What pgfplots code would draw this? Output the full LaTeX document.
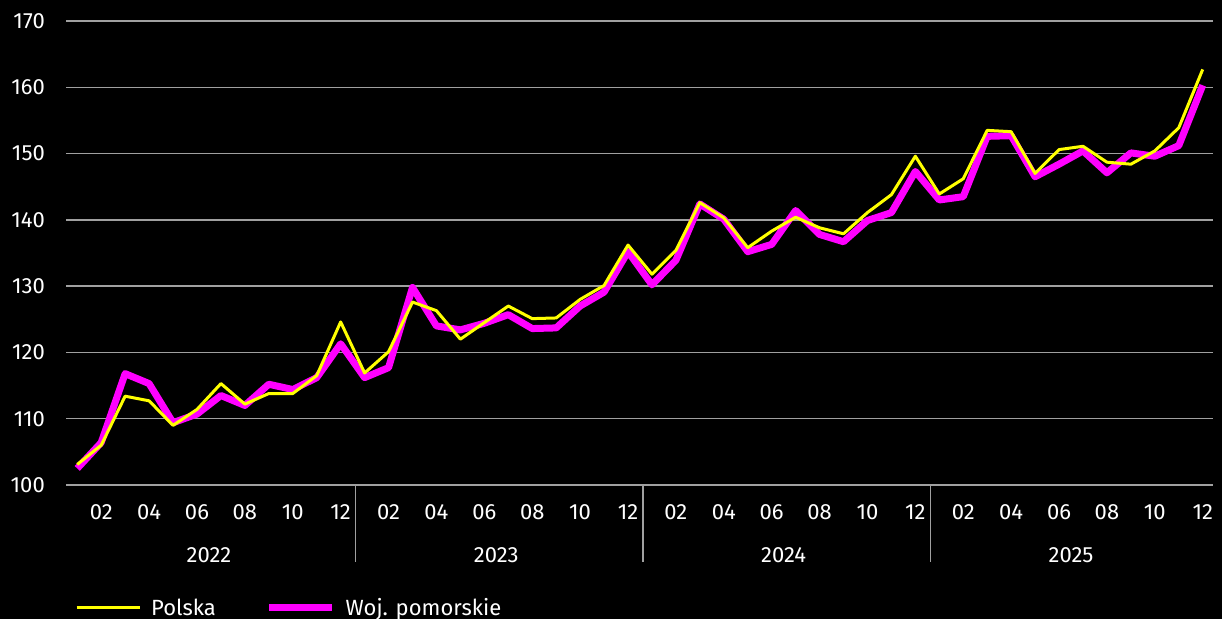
\documentclass[border=0pt]{standalone}
\usepackage{pgfplots}
\pgfplotsset{compat=1.18}
\usepackage{fontspec}
\setmainfont{Fira Sans}
\definecolor{gridgrey}{HTML}{A0A0A0}
\definecolor{polska}{HTML}{FFFF00}
\definecolor{pomorskie}{HTML}{FF00FF}
\newcommand\fs{\fontsize{22bp}{26bp}\selectfont}

\begin{document}
\begin{tikzpicture}
  \useasboundingbox (0,0) rectangle (1222bp,619bp);
  \fill[black] (0,0) rectangle (1222bp,619bp);
  \begin{axis}[
      at={(66bp,134bp)}, anchor=south west,
      scale only axis,
      width=1147bp, height=464bp,
      xmin=0.53, xmax=48.43,
      ymin=100, ymax=170,
      ytick={100,110,...,170},
      xtick={2,4,...,48},
      xticklabels={02,04,06,08,10,12,02,04,06,08,10,12,02,04,06,08,10,12,02,04,06,08,10,12},
      major tick length=0pt,
      axis line style={draw=none},
      ymajorgrids,
      grid style={gridgrey, line width=1.5bp},
      clip=false,
      /pgf/number format/assume math mode=true,
      tick label style={font=\fs, text=white},
      xticklabel style={anchor=center, yshift=-27bp},
      yticklabel style={anchor=east, inner sep=0pt, xshift=-21bp},
      legend columns=2,
      legend style={at={(axis description cs:0.0078,-0.2644)}, anchor=west,
        draw=none, fill=none, text=white, font=\fs, inner sep=0pt,
        /tikz/every odd column/.append style={column sep=10bp},
        /tikz/every even column/.append style={column sep=50bp},
        nodes={inner sep=0pt, anchor=west}},
      legend image code/.code={\draw[#1] (0bp,0bp) -- (63bp,0bp);},
    ]
    % legend entries first (Polska, then Woj. pomorskie)
    \addlegendimage{polska, line width=3bp}
    \addlegendentry{Polska}
    \addlegendimage{pomorskie, line width=7bp}
    \addlegendentry{Woj. pomorskie}

    % Woj. pomorskie (drawn underneath)
    \addplot[pomorskie, line width=7bp, line join=round, forget plot] coordinates {
      (1,102.5) (2,106.4) (3,116.8) (4,115.3) (5,109.4) (6,110.7)
      (7,113.5) (8,112.0) (9,115.2) (10,114.4) (11,116.2) (12,121.3)
      (13,116.2) (14,117.7) (15,129.8) (16,124.0) (17,123.4) (18,124.4)
      (19,125.7) (20,123.6) (21,123.7) (22,127.0) (23,129.1) (24,135.2)
      (25,130.2) (26,133.9) (27,142.4) (28,140.1) (29,135.2) (30,136.3)
      (31,141.4) (32,137.8) (33,136.7) (34,139.9) (35,141.1) (36,147.3)
      (37,143.0) (38,143.5) (39,152.6) (40,152.7) (41,146.5) (42,148.4)
      (43,150.4) (44,147.1) (45,150.1) (46,149.6) (47,151.2) (48,160.3)
    };
    % Polska
    \addplot[polska, line width=3bp, line join=round, forget plot] coordinates {
      (1,103.1) (2,106.0) (3,113.4) (4,112.7) (5,109.0) (6,111.4)
      (7,115.3) (8,112.2) (9,113.8) (10,113.8) (11,116.5) (12,124.6)
      (13,116.9) (14,120.1) (15,127.6) (16,126.3) (17,122.0) (18,124.5)
      (19,127.0) (20,125.1) (21,125.2) (22,128.0) (23,130.1) (24,136.2)
      (25,131.8) (26,135.4) (27,142.6) (28,140.3) (29,135.8) (30,138.3)
      (31,140.4) (32,138.8) (33,137.9) (34,141.1) (35,143.8) (36,149.6)
      (37,143.9) (38,146.2) (39,153.5) (40,153.3) (41,147.0) (42,150.6)
      (43,151.1) (44,148.7) (45,148.4) (46,150.4) (47,153.9) (48,162.7)
    };

    % year separators and labels
    \draw[gridgrey, line width=1.5bp] (axis cs:12.63,100) -- ([yshift=-77bp]axis cs:12.63,100);
    \draw[gridgrey, line width=1.5bp] (axis cs:24.63,100) -- ([yshift=-77bp]axis cs:24.63,100);
    \draw[gridgrey, line width=1.5bp] (axis cs:36.63,100) -- ([yshift=-77bp]axis cs:36.63,100);
    \node[text=white, font=\fs, anchor=center, yshift=-70bp] at (axis cs:6.5,100) {2022};
    \node[text=white, font=\fs, anchor=center, yshift=-70bp] at (axis cs:18.5,100) {2023};
    \node[text=white, font=\fs, anchor=center, yshift=-70bp] at (axis cs:30.5,100) {2024};
    \node[text=white, font=\fs, anchor=center, yshift=-70bp] at (axis cs:42.5,100) {2025};
  \end{axis}
\end{tikzpicture}
\end{document}
